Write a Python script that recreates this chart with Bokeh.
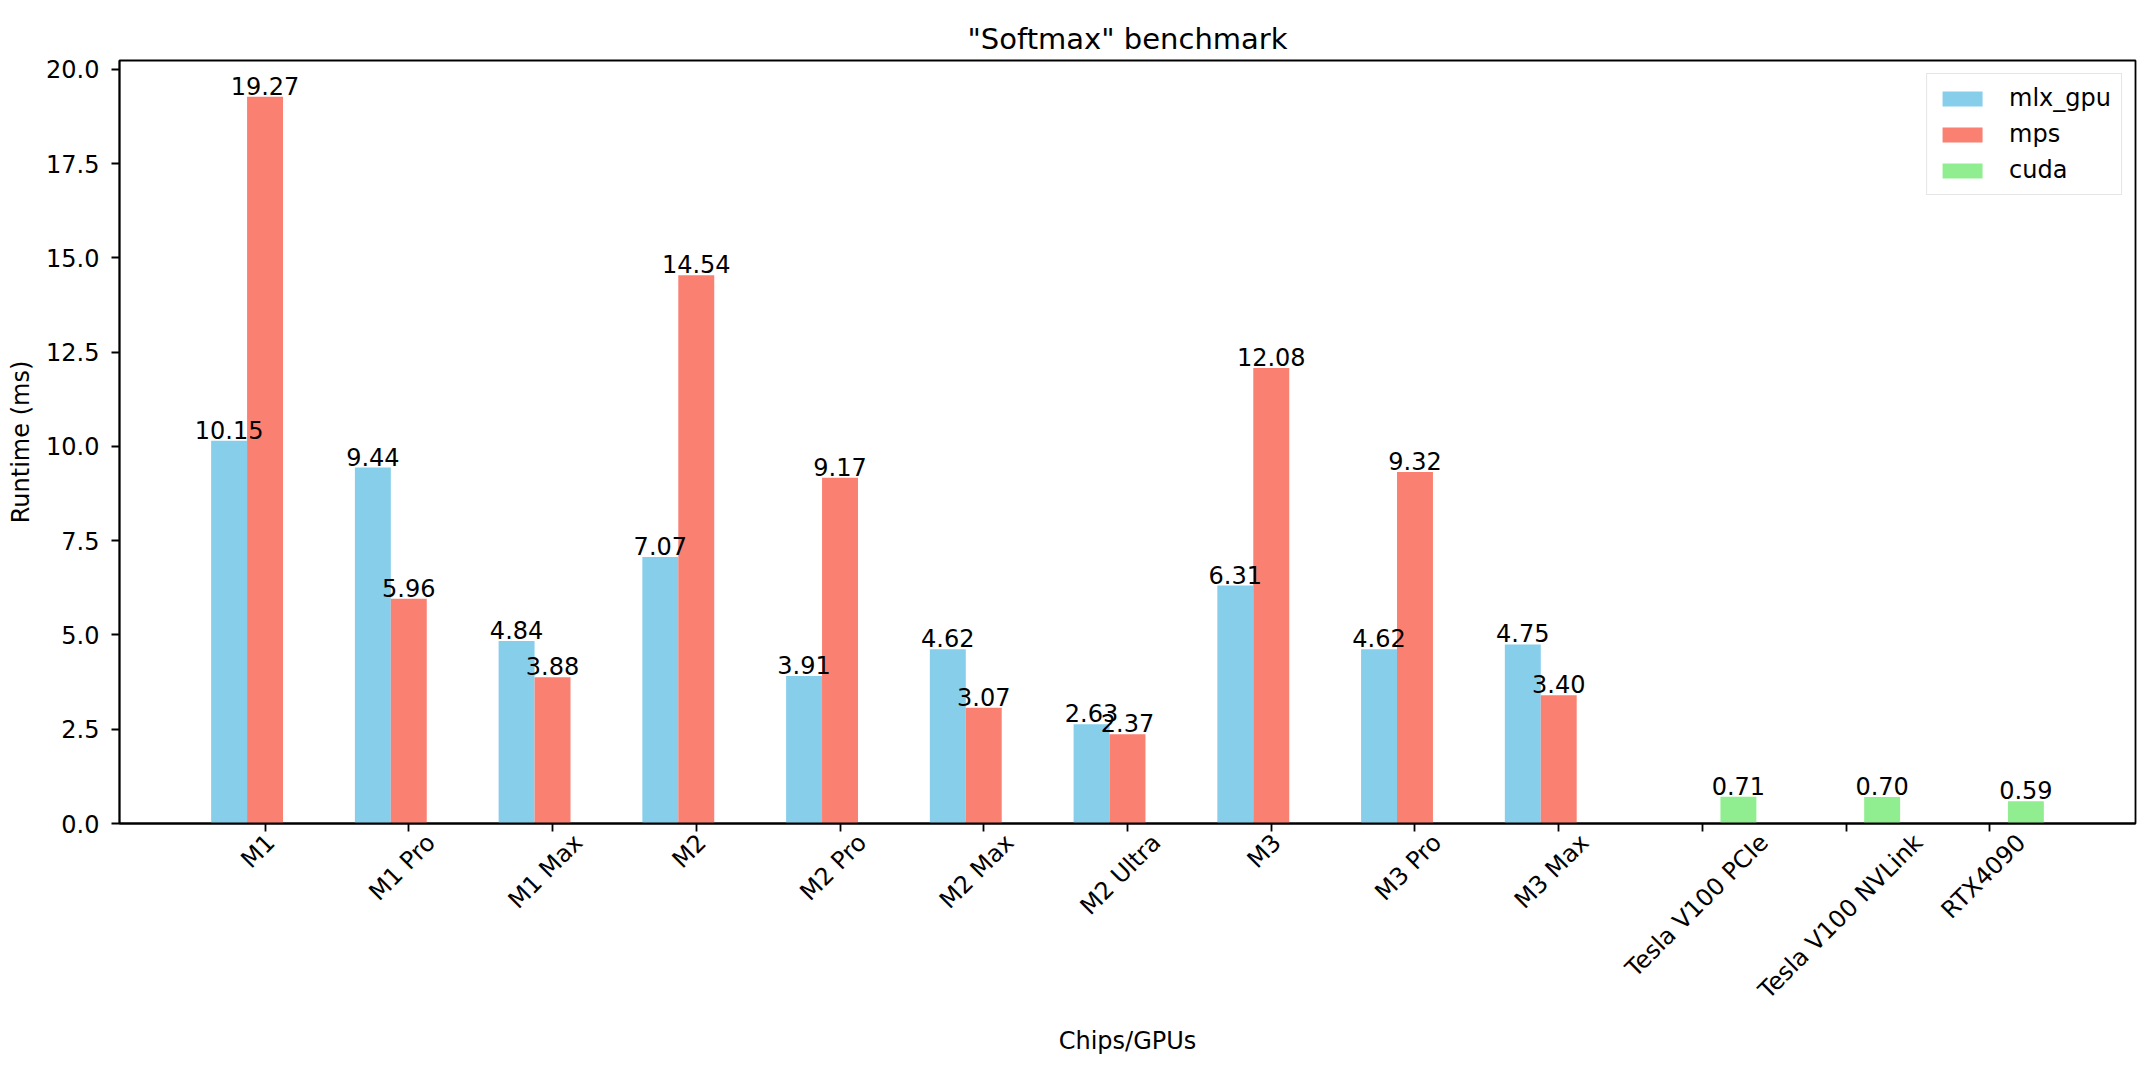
import math
from bokeh.plotting import figure
from bokeh.models import (ColumnDataSource, Range1d, FixedTicker, SingleIntervalTicker,
                          NumeralTickFormatter, LabelSet, LinearAxis)
from bokeh.core.properties import value
from bokeh.embed import file_html
from bokeh.resources import INLINE

# ---------------- data ----------------
chips = ["M1", "M1 Pro", "M1 Max", "M2", "M2 Pro", "M2 Max", "M2 Ultra",
         "M3", "M3 Pro", "M3 Max", "Tesla V100 PCIe", "Tesla V100 NVLink", "RTX4090"]
mlx_gpu = [10.15, 9.44, 4.84, 7.07, 3.91, 4.62, 2.63, 6.31, 4.62, 4.75, None, None, None]
mps = [19.27, 5.96, 3.88, 14.54, 9.17, 3.07, 2.37, 12.08, 9.32, 3.40, None, None, None]
cuda = [None] * 10 + [0.71, 0.70, 0.59]

series_names = ["mlx_gpu", "mps", "cuda"]
series_values = [mlx_gpu, mps, cuda]
series_colors = ["#87CEEB", "#FA8072", "#90EE90"]
series_offsets = [-0.25, 0.0, 0.25]
bar_width = 0.25

FONT = "DejaVu Sans"
FS = 24  # px

W, H = 2146, 1064
BL, BR, BT, BB = 119, 11, 60, 241

# ---------------- figure ----------------
n = len(chips)
all_vals = [v for s in series_values for v in s if v is not None]
ymax = max(all_vals) * 1.05
xlo = -0.25 - bar_width / 2
xhi = (n - 1) + 0.25 + bar_width / 2
xm = (xhi - xlo) * 0.05
x0, x1 = xlo - xm, xhi + xm

p = figure(width=W, height=H, output_backend="svg", toolbar_location=None,
           x_range=Range1d(x0, x1), y_range=Range1d(0, ymax),
           min_border_left=BL, min_border_right=BR, min_border_top=BT, min_border_bottom=BB,
           title='"Softmax" benchmark')

p.title.align = "center"
p.title.text_font = FONT
p.title.text_font_size = "29px"
p.title.text_font_style = "normal"
p.title.text_color = "#000000"
p.title.standoff = 10

p.xgrid.visible = False
p.ygrid.visible = False
p.outline_line_color = "#000000"
p.outline_line_width = 1.8
p.background_fill_color = "white"
p.border_fill_color = "white"

for s_name, s_vals, s_col, s_off in zip(series_names, series_values, series_colors, series_offsets):
    xs = [i + s_off for i, v in enumerate(s_vals) if v is not None]
    ys = [v for v in s_vals if v is not None]
    src = ColumnDataSource(dict(x=xs, top=ys, label=[f"{v:.2f}" for v in ys]))
    p.vbar(x="x", top="top", width=bar_width, source=src, fill_color=s_col,
           line_color=None, legend_label=s_name)
    p.add_layout(LabelSet(x="x", y="top", text="label", source=src,
                          text_align="center", text_baseline="bottom",
                          text_font=value(FONT), text_font_size=value(f"{FS}px"),
                          text_color="#000000", y_offset=2))

# ---------------- axes ----------------
def style(ax):
    ax.axis_line_color = "#000000"
    ax.axis_line_width = 1.8
    ax.major_tick_line_color = "#000000"
    ax.major_tick_line_width = 1.8
    ax.major_tick_out = 8
    ax.major_tick_in = 0
    ax.minor_tick_line_color = None
    ax.major_label_text_font = FONT
    ax.major_label_text_font_size = f"{FS}px"
    ax.major_label_text_color = "#000000"
    ax.axis_label_text_font = FONT
    ax.axis_label_text_font_size = f"{FS}px"
    ax.axis_label_text_font_style = "normal"
    ax.axis_label_text_color = "#000000"

style(p.xaxis[0])
style(p.yaxis[0])

p.yaxis.ticker = SingleIntervalTicker(interval=2.5)
p.yaxis.formatter = NumeralTickFormatter(format="0.0")
p.yaxis.major_label_standoff = 12
p.yaxis.axis_label = "Runtime (ms)"
p.yaxis.axis_label_standoff = 8

# tick marks only on the first bottom axis
main_x = p.xaxis[0]
main_x.ticker = FixedTicker(ticks=list(range(n)))
main_x.major_label_overrides = {i: "" for i in range(n)}
main_x.major_label_standoff = 0

# second bottom axis: rotated category labels, shifted so that each label's
# bounding box is centred under its tick (matplotlib style)
cw = {'M': 0.863, '1': 0.636, ' ': 0.318, 'P': 0.603, 'r': 0.411, 'o': 0.612, 'a': 0.613,
      'x': 0.592, '2': 0.636, 'U': 0.732, 'l': 0.278, 't': 0.392, '3': 0.636, 'T': 0.611,
      'e': 0.615, 's': 0.521, 'V': 0.684, '0': 0.636, 'C': 0.698, 'I': 0.295, 'N': 0.748,
      'L': 0.557, 'i': 0.278, 'n': 0.634, 'k': 0.579, 'R': 0.695, 'X': 0.685, '4': 0.636,
      '9': 0.636}
px_per_unit = (W - BL - BR) / (x1 - x0)
shifted = []
overrides = {}
for i, c in enumerate(chips):
    L = sum(cw.get(ch, 0.6) for ch in c) * FS
    dx = round(i + (math.sqrt(0.5) * L / 2 - 7) / px_per_unit, 4)
    shifted.append(dx)
    overrides[dx] = c
lab_ax = LinearAxis(ticker=FixedTicker(ticks=shifted), major_label_overrides=overrides)
style(lab_ax)
lab_ax.axis_line_color = None
lab_ax.major_tick_line_color = None
lab_ax.major_tick_out = 0
lab_ax.major_label_orientation = math.pi / 4
lab_ax.major_label_standoff = 7
lab_ax.axis_label = "Chips/GPUs"
lab_ax.axis_label_standoff = 10
p.add_layout(lab_ax, "below")

# ---------------- legend ----------------
lg = p.legend[0]
lg.location = "top_right"
lg.margin = 13
lg.padding = 10
lg.spacing = 8
lg.glyph_width = 50
lg.glyph_height = 19
lg.label_standoff = 22
lg.label_text_font = FONT
lg.label_text_font_size = f"{FS}px"
lg.label_text_color = "#000000"
lg.border_line_color = "#cccccc"
lg.border_line_width = 1.5
lg.background_fill_alpha = 0.8

open("out.html", "w").write(file_html(p, INLINE))
